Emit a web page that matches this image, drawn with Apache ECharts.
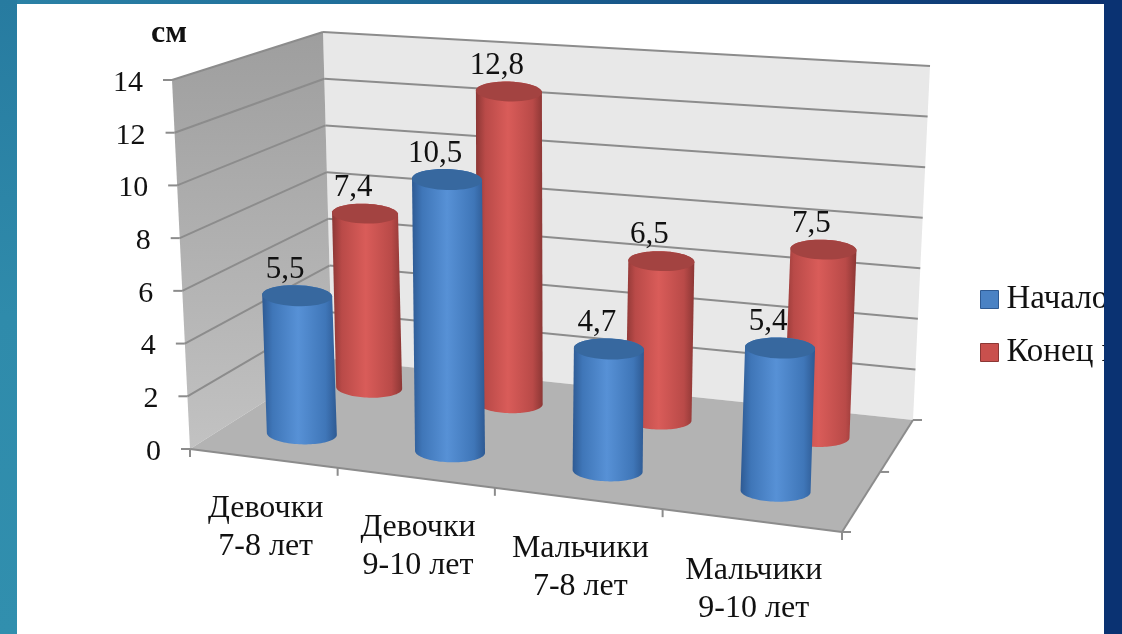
<!DOCTYPE html>
<html><head><meta charset="utf-8">
<style>html,body{margin:0;padding:0;background:#fff}#c{width:1122px;height:634px}</style>
<script src="https://cdn.jsdelivr.net/npm/echarts@6/dist/echarts.min.js"></script>
</head><body><div id="c"></div>
<script>
var categories = ['Девочки\n7-8 лет', 'Девочки\n9-10 лет', 'Мальчики\n7-8 лет', 'Мальчики\n9-10 лет'];
var seriesNames = ['Начало года', 'Конец года'];
var startValues = [5.5, 10.5, 4.7, 5.4];
var endValues = [7.4, 12.8, 6.5, 7.5];
var yMin = 0, yMax = 14, yStep = 2;
var yTicks = [0, 2, 4, 6, 8, 10, 12, 14];
var unitLabel = 'см';

// Box of the 3D plot on screen: corners order front-left, front-right, back-right, back-left
var FLOOR = [[190, 449], [842, 532], [913, 420], [332, 359]];
var CEIL = [[172, 80], [857, 137], [930, 66], [323, 32]];
var GRID = {left: 190, top: 80, width: 652, height: 369};
var FLATNESS = 0.3, TILT = 0.03, SERIF = '"Liberation Serif","Times New Roman",serif';

function homography(q) {
  var x0 = q[0][0], y0 = q[0][1], x1 = q[1][0], y1 = q[1][1], x2 = q[2][0], y2 = q[2][1], x3 = q[3][0], y3 = q[3][1];
  var dx1 = x1 - x2, dx2 = x3 - x2, sx = x0 - x1 + x2 - x3, dy1 = y1 - y2, dy2 = y3 - y2, sy = y0 - y1 + y2 - y3;
  var den = dx1 * dy2 - dx2 * dy1, g = (sx * dy2 - dx2 * sy) / den, h = (dx1 * sy - sx * dy1) / den;
  var a = x1 - x0 + g * x1, b = x3 - x0 + h * x3, d = y1 - y0 + g * y1, e = y3 - y0 + h * y3;
  return function (u, z) { var w = g * u + h * z + 1; return [(a * u + b * z + x0) / w, (d * u + e * z + y0) / w]; };
}
var floorH = homography(FLOOR);
// u: along categories 0..1, z: depth 0..1, t: height 0..1
function project(u, z, t) {
  var f = floorH(u, z), out = [0, 0];
  for (var k = 0; k < 2; k++) {
    var lean = (CEIL[0][k] - FLOOR[0][k]) * (1 - u) * (1 - z) + (CEIL[1][k] - FLOOR[1][k]) * u * (1 - z)
             + (CEIL[2][k] - FLOOR[2][k]) * u * z + (CEIL[3][k] - FLOOR[3][k]) * (1 - u) * z;
    out[k] = f[k] + lean * t;
  }
  return out;
}
function toU(api, cat) { return (api.coord([cat, 0])[0] - GRID.left) / GRID.width; }
function toT(api, val) { return (GRID.top + GRID.height - api.coord([0, val])[1]) / GRID.height; }

function arc(cx, cy, rx, ry, from, to) {
  var pts = [], n = 48;
  for (var i = 0; i <= n; i++) {
    var a = from + (to - from) * i / n, x = rx * Math.cos(a), y = ry * Math.sin(a);
    pts.push([cx + x - y * TILT, cy + y + x * TILT]);
  }
  return pts;
}
function line(a, b, color, w) {
  return {type: 'line', shape: {x1: a[0], y1: a[1], x2: b[0], y2: b[1]}, style: {stroke: color, lineWidth: w}};
}
function hGrad(stops) {
  return new echarts.graphic.LinearGradient(0, 0, 1, 0, stops.map(function (s) { return {offset: s[0], color: s[1]}; }));
}
var BLUE = {edge: '#2e5a93', mid: '#3f76b8', light: '#5791d6', cap: '#37689f'};
var RED = {edge: '#8c3735', mid: '#b94a48', light: '#d95c59', cap: '#a34341'};

function cylinder(depth, pal, radius, capDrop) {
  return function (params, api) {
    var cat = api.value(0), val = api.value(1);
    var u = toU(api, cat), t = toT(api, val);
    var bc = project(u, depth, 0), tc = project(u, depth, t);
    bc[0] += 2; tc[0] += 2; bc[1] += 1; tc[1] += capDrop;
    var ry = radius * FLATNESS;
    var body = arc(tc[0], tc[1], radius, ry, Math.PI, 2 * Math.PI)
      .concat(arc(bc[0], bc[1], radius, ry, 0, Math.PI));
    var cap = arc(tc[0], tc[1], radius, ry, 0, 2 * Math.PI);
    return {type: 'group', children: [
      {type: 'polygon', shape: {points: body}, style: {fill: hGrad([[0, pal.edge], [0.14, pal.mid], [0.48, pal.light], [0.85, pal.mid], [1, pal.edge]])}},
      {type: 'polygon', shape: {points: cap}, style: {fill: pal.cap}},
      {type: 'text', x: tc[0] - 12, y: tc[1] - 26, style: {text: String(val).replace('.', ','), font: '31px ' + SERIF, fill: '#111', align: 'center', verticalAlign: 'middle'}}
    ]};
  };
}

function renderFrame(params, api) {
  var wallGrad = new echarts.graphic.LinearGradient(0, 0, 0, 1, [{offset: 0, color: '#9e9e9e'}, {offset: 1, color: '#c2c2c2'}]);
  var kids = [
    {type: 'polygon', shape: {points: [CEIL[3], CEIL[2], FLOOR[2], FLOOR[3]]}, style: {fill: '#e8e8e8'}},
    {type: 'polygon', shape: {points: [CEIL[0], CEIL[3], FLOOR[3], FLOOR[0]]}, style: {fill: wallGrad}},
    {type: 'polygon', shape: {points: FLOOR}, style: {fill: '#b3b3b3'}}
  ];
  yTicks.forEach(function (v) {
    var t = toT(api, v), a = project(0, 0, t), b = project(0, 1, t), c = project(1, 1, t);
    if (v > 0) {
      kids.push(line(a, b, '#8c8c8c', 2));
      kids.push(line(b, c, '#8c8c8c', 2));
    }
    kids.push(line([a[0] - 9, a[1]], a, '#8c8c8c', 2));
    kids.push({type: 'text', x: a[0] - 29, y: a[1] + 3, style: {text: String(v), font: '30px ' + SERIF, fill: '#111', align: 'right', verticalAlign: 'middle'}});
  });
  kids.push(line(FLOOR[0], FLOOR[1], '#8c8c8c', 2));
  kids.push(line(FLOOR[1], FLOOR[2], '#8c8c8c', 2));
  categories.forEach(function (c, i) {
    var p = floorH(i / categories.length, 0);
    kids.push(line(p, [p[0], p[1] + 8], '#8c8c8c', 2));
    var m = floorH((i + 0.5) / categories.length, 0);
    kids.push({type: 'text', x: m[0] + 3, y: m[1] + 69, style: {text: c, font: '32px ' + SERIF, lineHeight: 38, fill: '#111', align: 'center', verticalAlign: 'middle'}});
  });
  var e = floorH(1, 0);
  kids.push(line(e, [e[0], e[1] + 8], '#8c8c8c', 2));
  [0, 0.5, 1].forEach(function (z) {
    var p = floorH(1, z);
    kids.push(line(p, [p[0] + 9, p[1]], '#8c8c8c', 2));
  });
  kids.push({type: 'text', x: 169, y: 34, style: {text: unitLabel, font: 'bold 32px ' + SERIF, fill: '#111', align: 'center', verticalAlign: 'middle'}});
  return {type: 'group', children: kids};
}

var bgGrad = new echarts.graphic.LinearGradient(0, 0, 1, 0, [{offset: 0, color: '#2b82a6'}, {offset: 0.3, color: '#206f9a'}, {offset: 1, color: '#0a2f6e'}]);
var sideGrad = new echarts.graphic.LinearGradient(0, 0, 0, 1, [{offset: 0, color: '#277ba0'}, {offset: 0.5, color: '#2f8bab'}, {offset: 1, color: '#318fae'}]);
var chart = echarts.init(document.getElementById('c'), null, {renderer: 'canvas'});
chart.setOption({
  animation: false,
  backgroundColor: '#fff',
  grid: {left: GRID.left, top: GRID.top, width: GRID.width, height: GRID.height, containLabel: false},
  xAxis: {type: 'category', data: categories, show: false},
  yAxis: {type: 'value', min: yMin, max: yMax, interval: yStep, show: false},
  legend: {
    orient: 'vertical', left: 975, top: 278, itemWidth: 18, itemHeight: 18, itemGap: 20, itemStyle: {borderWidth: 1},
    data: [{name: seriesNames[0], icon: 'rect'}, {name: seriesNames[1], icon: 'rect'}],
    textStyle: {fontFamily: SERIF, fontSize: 33, color: '#111', padding: [0, 0, 0, 3]}
  },
  graphic: [
    {type: 'rect', z: 100, silent: true, shape: {x: 0, y: 0, width: 1122, height: 4}, style: {fill: bgGrad}},
    {type: 'rect', z: 100, silent: true, shape: {x: 0, y: 0, width: 17, height: 634}, style: {fill: sideGrad}},
    {type: 'rect', z: 100, silent: true, shape: {x: 1104, y: 0, width: 18, height: 634}, style: {fill: '#0a3272'}}
  ],
  series: [
    {type: 'custom', name: 'frame', silent: true, z: 1, coordinateSystem: 'cartesian2d', renderItem: renderFrame, data: [[0, 0]], encode: {x: 0, y: 1}},
    {type: 'custom', name: seriesNames[1], z: 2, coordinateSystem: 'cartesian2d', itemStyle: {color: '#c9504d', borderColor: '#8c3735'},
      renderItem: cylinder(0.75, RED, 33, 7), data: endValues.map(function (v, i) { return [i, v]; }), encode: {x: 0, y: 1}},
    {type: 'custom', name: seriesNames[0], z: 3, coordinateSystem: 'cartesian2d', itemStyle: {color: '#4a82c4', borderColor: '#2e5a93'},
      renderItem: cylinder(0.25, BLUE, 35, 5), data: startValues.map(function (v, i) { return [i, v]; }), encode: {x: 0, y: 1}}
  ]
});
</script></body></html>
